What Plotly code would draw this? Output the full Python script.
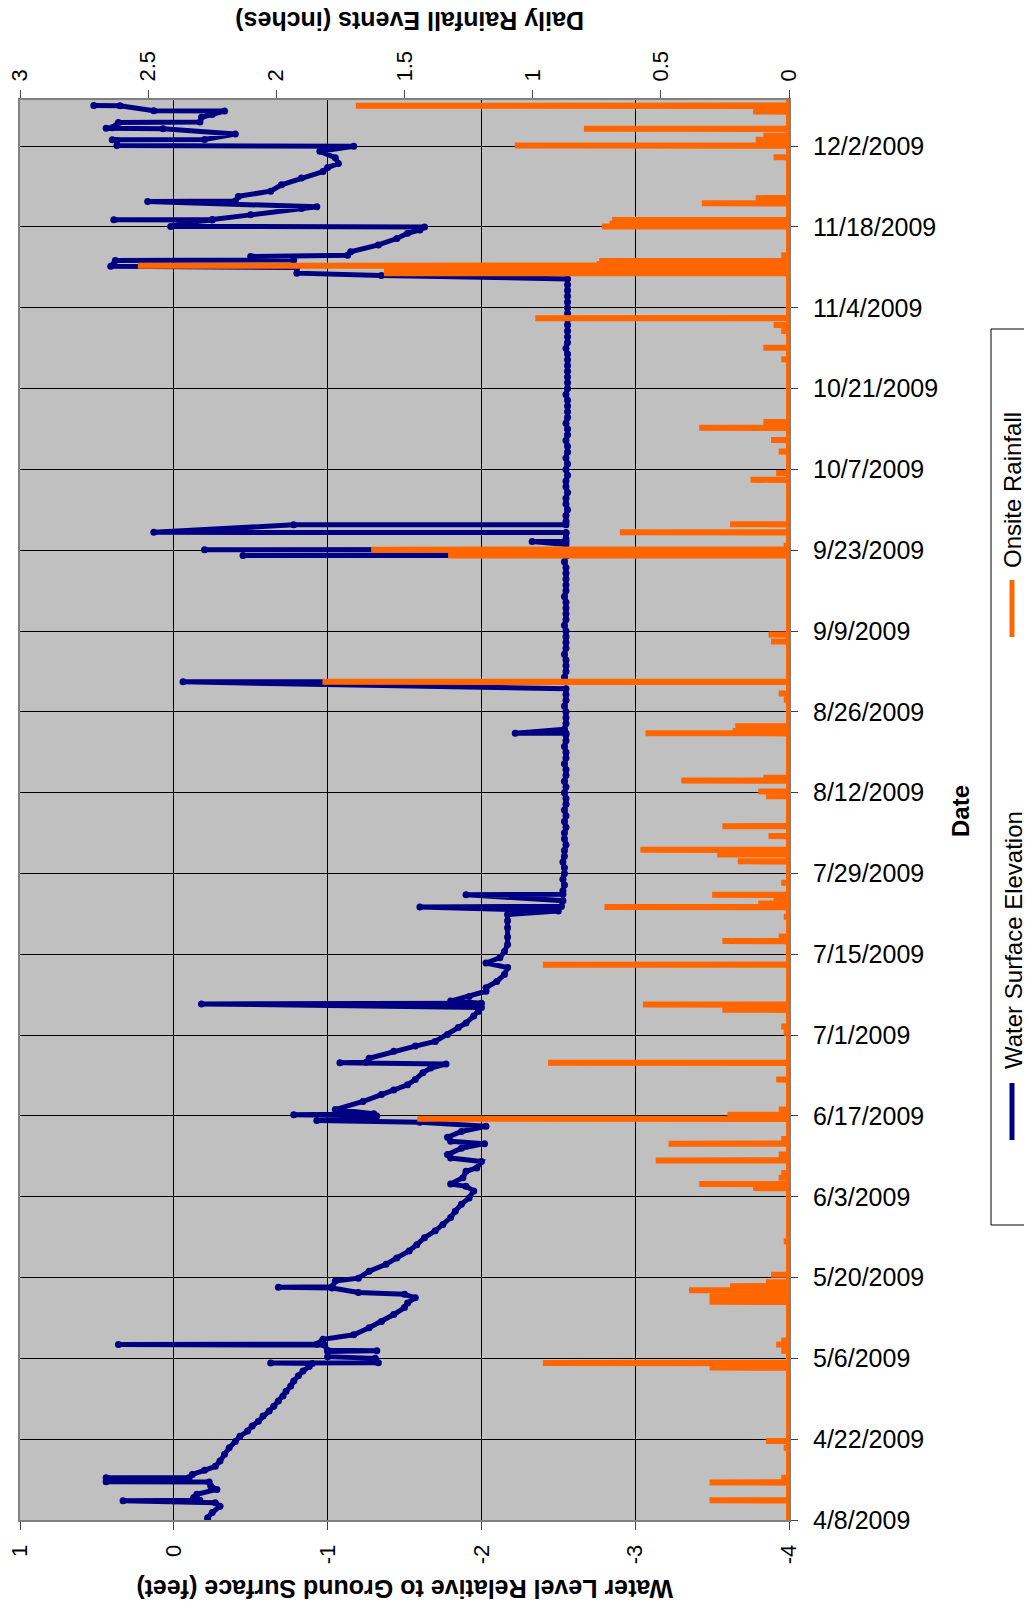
import numpy as np
import pandas as pd
import plotly.graph_objects as go

START = pd.Timestamp("2009-04-08")

# ---------------- Water level (feet), day offsets from 4/8/2009 ----------------
early_day = [0.0, 0.4, 1.3, 2.4, 3.0, 3.35, 3.4, 3.9, 4.45, 5.3, 5.9, 6.6, 6.63, 7.3, 7.33, 7.9, 8.6, 9.3,
             10.2, 11.4, 12.5, 13.6, 14.5, 15.4, 16.3, 17.1, 18.0, 18.9, 19.7, 20.6, 21.5, 22.3, 23.2, 24.1,
             25.0, 25.8, 26.6, 27.1, 27.2, 27.25, 28.0, 28.3, 29.2, 29.3, 29.4, 30.3, 30.4, 30.45, 31.3, 32.1,
             33.3, 34.4, 35.6, 36.8, 37.6, 38.5, 39.1, 39.4, 40.2, 40.3, 40.4, 41.4, 41.9, 43.1, 44.3, 45.4,
             46.6, 47.7, 48.9, 50.1, 51.2, 52.4, 53.5, 54.7, 55.8, 57.0, 57.8, 58.2, 59.3, 60.4, 61.0, 62.1,
             62.7, 63.3, 64.4, 65.2, 65.6, 66.3, 67.3, 68.2, 68.9, 69.2, 69.4, 70.0, 70.2, 70.4, 71.1, 72.5,
             73.7, 74.5, 75.4, 76.3, 77.5, 78.3, 79.0, 79.2, 79.3, 80.0, 81.2, 82.1, 82.9, 84.1, 85.3, 86.1,
             87.3, 88.1, 88.8, 89.4, 89.5, 89.9, 90.7, 91.6, 92.2, 93.3, 94.5, 95.7, 96.5, 97.4, 98.5, 99.7,
             101.0, 102.6, 103.8, 104.9, 105.5, 106.2, 106.3, 107.3, 108.3, 108.4]
early_val = [-0.22, -0.22, -0.25, -0.30, -0.27, 0.33, -0.17, -0.13, -0.15, -0.28, -0.24, -0.23, 0.44, 0.44, -0.10,
             -0.12, -0.20, -0.27, -0.30, -0.33, -0.36, -0.40, -0.43, -0.48, -0.51, -0.55, -0.58, -0.62, -0.65,
             -0.68, -0.71, -0.73, -0.76, -0.78, -0.81, -0.84, -0.88, -0.90, -0.63, -1.33, -1.31, -1.00, -1.00,
             -1.32, -1.00, -0.98, 0.36, -0.93, -0.97, -1.17, -1.27, -1.35, -1.43, -1.50, -1.52, -1.57, -1.50,
             -1.20, -1.03, -0.68, -1.03, -1.05, -1.20, -1.27, -1.38, -1.45, -1.53, -1.58, -1.63, -1.70, -1.75,
             -1.80, -1.83, -1.87, -1.92, -1.95, -1.90, -1.80, -1.88, -1.90, -1.97, -2.00, -1.80, -1.78, -1.87,
             -2.02, -1.80, -1.78, -1.87, -2.03, -1.60, -0.93, -1.25, -1.32, -0.78, -1.30, -1.05, -1.23, -1.35,
             -1.43, -1.52, -1.57, -1.62, -1.67, -1.77, -1.08, -1.25, -1.27, -1.43, -1.57, -1.70, -1.78, -1.85,
             -1.90, -1.95, -1.98, -2.00, -0.18, -2.00, -1.80, -1.92, -2.03, -2.03, -2.10, -2.15, -2.17, -2.03,
             -2.12, -2.15, -2.17, -2.17, -2.17, -2.17, -2.17, -2.50, -1.60, -2.52, -2.53, -1.90, -2.53]

# daily readings from day 109 to day 215 (flat period)
flat_first_day = 109
flat_val = [-2.53, -2.54, -2.53, -2.54, -2.54, -2.53, -2.54, -2.54, -2.55, -2.54, -2.54, -2.55,
            -2.54, -2.55, -2.54, -2.55, -2.55, -2.54, -2.55, -2.54, -2.55, -2.55, -2.54, -2.55, -2.55, -2.54,
            -2.55, -2.55, -2.54, -2.55, -2.55, -2.55,
            -2.54, -2.55, -2.55, -2.55, -2.55, -2.54, -2.55, -2.55, -2.55, -2.54, -2.55, -2.55, -2.55, -2.55,
            -2.54, -2.55, -2.55, -2.55, -2.55, -2.54,
            -2.55, -2.55, -2.55, -2.55, -2.55, -2.54, -2.55, -2.55, -2.55, -2.55, -2.55, -2.55, -2.55, -2.55,
            -2.56, -2.55, -2.55, -2.56, -2.55, -2.55,
            -2.56, -2.55, -2.56, -2.55, -2.56, -2.56, -2.55, -2.56, -2.56, -2.55, -2.56, -2.56, -2.56, -2.56,
            -2.55, -2.56, -2.56, -2.56, -2.56, -2.56,
            -2.56, -2.56, -2.55, -2.56, -2.56, -2.56, -2.56, -2.56, -2.56, -2.56, -2.56, -2.56, -2.56, -2.56, -2.56]
flat_skip_days = [145, 172]

# storm responses during the flat period
spike_day = [136.28, 136.3, 145.2, 145.22, 167.08, 167.1, 167.12, 168.08, 168.1, 168.12, 169.5, 169.52,
             171.08, 171.1, 172.4, 172.42]
spike_val = [-2.55, -2.22, -0.06, -2.55, -2.55, -0.45, -2.55, -2.55, -0.20, -2.55, -2.33, -2.55,
             -2.55, 0.13, -0.78, -2.55]

late_day = [215.6, 216.0, 217.0, 217.2, 218.2, 218.3, 218.9, 219.1, 219.7, 220.9, 222.0, 222.9, 223.5, 224.0,
            224.1, 224.8, 225.2, 225.25, 225.3, 226.1, 227.2, 227.5, 228.4, 228.5, 229.3, 230.2, 231.3, 232.5,
            233.6, 234.3, 235.0, 236.0, 237.1, 238.0, 238.1, 239.0, 239.1, 239.15, 240.1, 241.0, 241.1, 241.2,
            242.1, 242.2, 243.0, 243.5, 244.1, 244.15, 245.0, 245.05]
late_val = [-1.35, -0.80, -0.80, 0.41, 0.38, -0.78, -0.50, -1.13, -1.15, -1.33, -1.45, -1.52, -1.60, -1.63,
            0.02, -0.10, -0.25, 0.39, -0.25, -0.50, -0.83, -0.93, 0.17, -0.40, -0.42, -0.63, -0.70, -0.83,
            -0.97, -1.00, -1.07, -1.05, -0.95, -1.17, 0.37, 0.37, 0.40, -0.20, -0.40, 0.07, 0.44, 0.40,
            0.36, -0.17, -0.18, -0.25, -0.33, 0.13, 0.35, 0.52]

# ---------------- Onsite rainfall (inches) ----------------
rain_day = [3.4, 6.5, 7.3, 12.5, 13.7, 26.4, 26.8, 27.2, 29.3, 30.4, 31.1,
            37.8, 38.8, 39.8, 40.5, 41.2, 42.5, 46.3, 48.3,
            57.5, 58.2, 59.3, 60.1, 62.3, 63.3, 65.2, 66.0, 69.5, 70.2, 71.1, 76.3, 79.2, 84.4, 85.5, 88.4, 89.3,
            96.2, 100.3, 101.1, 104.5, 106.2, 106.8, 107.5, 108.3, 110.4, 112.0, 114.1, 115.3, 116.1, 118.5, 120.2,
            125.4, 126.2, 128.1, 128.6, 136.3, 136.7, 137.5, 142.1, 143.2, 145.2, 146.5, 152.2, 153.4,
            167.1, 168.1, 168.8, 171.1, 172.5, 180.2, 181.4, 185.1,
            187.1, 189.2, 190.2, 201.1, 203.1, 206.0, 207.0, 208.2,
            216.0, 216.5, 217.3, 217.6, 218.1, 219.1, 224.1, 224.6, 225.2, 228.1, 229.0, 236.1, 238.1, 239.1,
            239.8, 241.0, 244.0, 245.0]
rain_val = [0.31, 0.31, 0.03, 0.02, 0.09, 0.31, 0.28, 0.96, 0.03, 0.05, 0.03,
            0.31, 0.31, 0.39, 0.23, 0.09, 0.07, 0.01, 0.02,
            0.14, 0.35, 0.04, 0.03, 0.52, 0.04, 0.47, 0.03, 1.45, 0.24, 0.04, 0.05, 0.94, 0.02, 0.03, 0.26, 0.57,
            0.96, 0.26, 0.04, 0.02, 0.72, 0.12, 0.06, 0.30, 0.03, 0.01, 0.20, 0.28, 0.58, 0.08, 0.26,
            0.09, 0.12, 0.42, 0.10, 0.56, 0.22, 0.21, 0.02, 0.04, 1.82, 0.01, 0.07, 0.08,
            1.33, 1.63, 0.02, 0.66, 0.23, 0.15, 0.05, 0.04,
            0.07, 0.35, 0.10, 0.03, 0.10, 0.03, 0.06, 0.99,
            1.58, 1.58, 2.54, 0.75, 0.74, 0.03, 0.73, 0.70, 0.69, 0.34, 0.13, 0.06, 1.07, 0.13,
            0.10, 0.80, 0.14, 1.69]
rain_first_day = 0.0
rain_last_day = 246.0

wl_ticks = [1, 0, -1, -2, -3, -4]
wl_tick_text = ["1", "0", "-1", "-2", "-3", "-4"]
rain_ticks = [3, 2.5, 2, 1.5, 1, 0.5, 0]
rain_tick_text = ["3", "2.5", "2", "1.5", "1", "0.5", "0"]
date_tick_start = "2009-04-08"
date_range = ["2009-04-08", "2009-12-10"]

# ---------------- assemble series ----------------
flat_day = [flat_first_day + i for i in range(len(flat_val))]
flat_pairs = [(d, v) for d, v in zip(flat_day, flat_val) if d not in flat_skip_days]
wl_pairs = list(zip(early_day, early_val)) + flat_pairs + list(zip(spike_day, spike_val)) + list(zip(late_day, late_val))
wl_pairs.sort(key=lambda p: p[0])
wl_d = np.array([p[0] for p in wl_pairs])
wl_v = np.array([p[1] for p in wl_pairs])
wl_t = START + pd.to_timedelta(wl_d, unit="D")

eps = 0.03
rp = [(rain_first_day, 0.0), (rain_last_day, 0.0)]
for d, v in zip(rain_day, rain_val):
    rp += [(d - eps, 0.0), (d, v), (d + eps, 0.0)]
rp.sort(key=lambda p: p[0])
r_d = np.array([p[0] for p in rp])
r_v = np.array([p[1] for p in rp])
r_t = START + pd.to_timedelta(r_d, unit="D")

NAVY = "#000080"
ORANGE = "#FF6600"
FONT = "Liberation Sans, Arial, sans-serif"

fig = go.Figure()
fig.add_trace(go.Scatter(x=wl_v, y=wl_t, xaxis="x", yaxis="y", mode="lines+markers",
                         line=dict(color=NAVY, width=5), marker=dict(color=NAVY, size=7),
                         name="Water Surface Elevation"))
fig.add_trace(go.Scatter(x=r_v, y=r_t, xaxis="x2", yaxis="y", mode="lines",
                         line=dict(color=ORANGE, width=6), name="Onsite Rainfall"))

# page body adds an 8 px offset; screen coords below are converted to figure coords
OFF = 8
W, H = 1032, 1610
L, R, T, B = 12, 251, 92, 98
PW, PH = W - L - R, H - T - B


def px(x):
    return (x - OFF - L) / PW


def py(y):
    return (H - B - (y - OFF)) / PH


fig.update_layout(
    width=W, height=H, margin=dict(l=L, r=R, t=T, b=B, autoexpand=False),
    plot_bgcolor="#C0C0C0", paper_bgcolor="white", showlegend=False,
    font=dict(family=FONT, color="black"),
    xaxis=dict(range=[1, -4], tickvals=wl_ticks, ticktext=wl_tick_text, tickangle=-90, ticks="outside",
               ticklen=8, tickcolor="#404040", showgrid=True, gridcolor="black", gridwidth=1, zeroline=False,
               showline=True, linecolor="#808080", linewidth=2, tickfont=dict(size=22), automargin=False,
               ticklabelstandoff=6, ticklabeloverflow="allow"),
    xaxis2=dict(range=[3, 0], tickvals=rain_ticks, ticktext=rain_tick_text, overlaying="x", side="top",
                anchor="y", tickangle=-90, ticks="outside", ticklen=8, tickcolor="#404040", showgrid=False,
                zeroline=False, showline=True, linecolor="#808080", linewidth=2, tickfont=dict(size=22),
                automargin=False, ticklabelstandoff=4, ticklabeloverflow="allow"),
    yaxis=dict(type="date", range=date_range, tick0=date_tick_start, dtick=14 * 86400000,
               tickformat="%-m/%-d/%Y", side="right", ticks="outside", ticklen=7, tickcolor="#404040",
               showgrid=True, gridcolor="black", gridwidth=1, zeroline=False, showline=True, mirror=True,
               linecolor="#808080", linewidth=2, tickfont=dict(size=25), ticklabelstandoff=10,
               automargin=False, ticklabeloverflow="allow"),
)

ann = []
ann.append(dict(text="<b>Daily Rainfall Events (inches)</b>", x=px(409), y=py(21), textangle=180,
                font=dict(size=25)))
ann.append(dict(text="<b>Water Level Relative to Ground Surface (feet)</b>", x=px(405), y=py(1589),
                textangle=180, font=dict(size=25)))
ann.append(dict(text="<b>Date</b>", x=px(960), y=py(811), textangle=-90, font=dict(size=24)))
ann.append(dict(text="Water Surface Elevation", x=px(1013), y=py(940), textangle=-90, font=dict(size=24)))
ann.append(dict(text="Onsite Rainfall", x=px(1013), y=py(490), textangle=-90, font=dict(size=24)))
for a in ann:
    a.update(xref="paper", yref="paper", showarrow=False, xanchor="center", yanchor="middle")
fig.update_layout(annotations=ann)

shapes = [
    dict(type="rect", x0=px(991), x1=px(1060), y0=py(329), y1=py(1225), line=dict(color="black", width=1),
         fillcolor="rgba(0,0,0,0)"),
    dict(type="line", x0=px(1012), x1=px(1012), y0=py(1083), y1=py(1140), line=dict(color=NAVY, width=5)),
    dict(type="line", x0=px(1012), x1=px(1012), y0=py(580), y1=py(637), line=dict(color=ORANGE, width=5)),
]
for s in shapes:
    s.update(xref="paper", yref="paper")
fig.update_layout(shapes=shapes)

fig.write_html("out.html")
